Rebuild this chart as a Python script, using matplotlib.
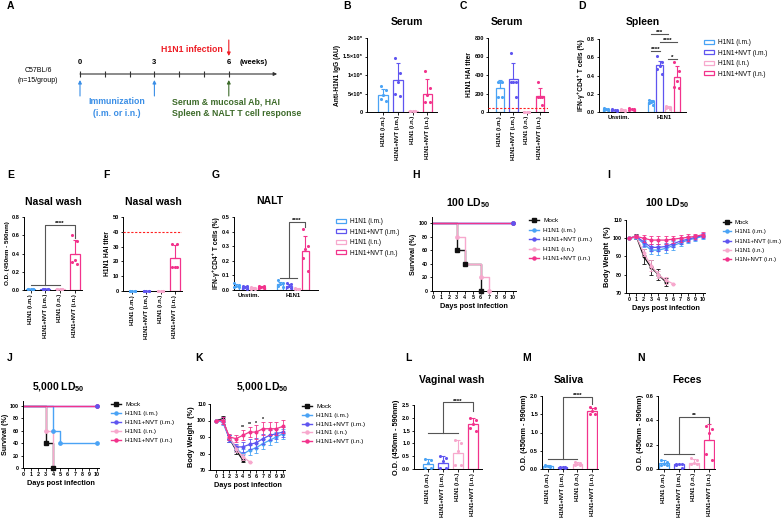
import numpy as np
import matplotlib
matplotlib.use('Agg')
import matplotlib.pyplot as plt
from matplotlib.patches import Patch
from matplotlib.lines import Line2D

plt.rcParams['font.family'] = ['Liberation Sans', 'DejaVu Sans']
plt.rcParams['font.weight'] = 'bold'
plt.rcParams['axes.labelweight'] = 'bold'
plt.rcParams['mathtext.fontset'] = 'custom'
plt.rcParams['mathtext.rm'] = 'Liberation Sans:bold'
plt.rcParams['mathtext.bf'] = 'Liberation Sans:bold'
plt.rcParams['axes.linewidth'] = 0.7
plt.rcParams['xtick.major.width'] = 0.6
plt.rcParams['ytick.major.width'] = 0.6
plt.rcParams['xtick.major.size'] = 1.8
plt.rcParams['ytick.major.size'] = 1.8
plt.rcParams['xtick.major.pad'] = 1
plt.rcParams['ytick.major.pad'] = 1

# ---------------- data ----------------
groups = ['H1N1 (i.m.)', 'H1N1+NVT (i.m.)', 'H1N1 (i.n.)', 'H1N1+NVT (i.n.)']
colors = ['#4aa3f5', '#5f55f0', '#f7a8cd', '#f2338c']
mock_color = '#111111'
curve_labels = ['Mock', 'H1N1 (i.m.)', 'H1N1+NVT (i.m.)', 'H1N1 (i.n.)', 'H1N1+NVT (i.n.)']
curve_labels_i = ['Mock', 'H1N1 (i.m.)', 'H1N1+NVT (i.m.)', 'H1N1 (i.n.)', 'H1N+NVT (i.n.)']
curve_colors = [mock_color] + colors

# A: schedule
weeks = [0, 1, 2, 3, 4, 5, 6]
week_labels = [0, 3, 6]
immun_weeks = [0, 3]
infect_week = 6

# B: serum IgG
b_mean = [4.7e5, 8.7e5, 2.0e4, 5.0e5]
b_sd = [1.4e5, 4.6e5, 1.0e4, 3.8e5]
b_pts = [[7.0e5, 6.0e5, 4.6e5, 3.5e5, 3.0e5],
         [1.45e6, 1.05e6, 8.0e5, 4.8e5, 4.2e5],
         [3.0e4, 2.0e4, 1.5e4, 1.5e4, 2.0e4],
         [1.1e6, 6.5e5, 4.6e5, 2.7e5, 2.6e5]]

# C: serum HAI
c_mean = [256, 352, 5, 176]
c_sd = [88, 175, 0, 88]
c_pts = [[320, 320, 320, 160, 160],
         [640, 320, 320, 320, 160],
         [5, 5, 5, 5, 5],
         [320, 160, 160, 160, 80]]
hai_cutoff = 40

# D: spleen IFN-g CD4
d_unstim_mean = [0.03, 0.02, 0.02, 0.03]
d_unstim_sd = [0.008, 0.006, 0.007, 0.008]
d_unstim_pts = [[0.04, 0.035, 0.03, 0.025, 0.02], [0.03, 0.025, 0.02, 0.02, 0.015],
                [0.03, 0.025, 0.02, 0.02, 0.015], [0.04, 0.035, 0.03, 0.025, 0.02]]
d_h1n1_mean = [0.11, 0.51, 0.05, 0.38]
d_h1n1_sd = [0.02, 0.05, 0.02, 0.12]
d_h1n1_pts = [[0.13, 0.12, 0.11, 0.10, 0.08], [0.61, 0.55, 0.50, 0.47, 0.42],
              [0.07, 0.06, 0.05, 0.04, 0.03], [0.55, 0.45, 0.34, 0.27, 0.26]]
d_sig = [(0, 1, 0.67, '****'), (0, 2, 0.85, '***'), (1, 3, 0.77, '****'), (2, 3, 0.58, '*')]

# E: nasal wash OD
e_mean = [0.01, 0.01, 0.01, 0.39]
e_sd = [0.003, 0.003, 0.003, 0.16]
e_pts = [[0.012, 0.01, 0.01, 0.008, 0.012], [0.012, 0.01, 0.01, 0.008, 0.012],
         [0.012, 0.01, 0.01, 0.008, 0.012], [0.60, 0.54, 0.33, 0.31, 0.28]]

# F: nasal wash HAI
f_mean = [0, 0, 0, 22.4]
f_sd = [0, 0, 0, 8.8]
f_pts = [[0] * 5, [0] * 5, [0] * 5, [32, 32, 16, 16, 16]]

# G: NALT IFN-g CD4
g_unstim_mean = [0.03, 0.02, 0.015, 0.02]
g_unstim_sd = [0.01, 0.006, 0.004, 0.006]
g_unstim_pts = [[0.05, 0.035, 0.03, 0.02, 0.02], [0.03, 0.025, 0.02, 0.015, 0.01],
                [0.02, 0.015, 0.015, 0.01, 0.01], [0.03, 0.025, 0.02, 0.015, 0.015]]
g_h1n1_mean = [0.04, 0.03, 0.01, 0.27]
g_h1n1_sd = [0.015, 0.012, 0.004, 0.10]
g_h1n1_pts = [[0.07, 0.05, 0.04, 0.03, 0.02], [0.05, 0.04, 0.03, 0.02, 0.015],
              [0.015, 0.01, 0.01, 0.01, 0.005], [0.42, 0.30, 0.28, 0.22, 0.13]]

# H: survival 100 LD50  (days, %)
h_days = [[0, 3, 4, 6], [0, 10], [0, 10], [0, 3, 4, 6, 7], [0, 10]]
h_surv = [[100, 60, 40, 0], [100, 100], [100, 100], [100, 80, 40, 20, 0], [100, 100]]

# I: body weight 100 LD50
i_mean = [[100, 101, 90, 84, 80, 76],
          [100, 100.5, 97, 93.5, 93.5, 94.5, 96, 97.5, 99, 100, 101],
          [100, 101, 98, 95, 95, 95.5, 97, 98.5, 99.5, 100.5, 101.5],
          [100, 101, 92, 85, 80, 77, 75],
          [100, 101, 100, 99, 99, 99, 99.5, 100, 100.5, 101, 102]]
i_sd = [[0, 1.5, 4, 4, 3, 2],
        [0, 1, 2, 2, 2.5, 2.5, 2.5, 2, 1.5, 1.5, 1.5],
        [0, 1, 2, 2, 2, 2, 2, 1.5, 1.5, 1.5, 1.5],
        [0, 1, 2, 3, 2, 2, 0],
        [0, 1, 2, 2, 2, 2, 2, 2, 2, 1.5, 1.5]]

# J: survival 5,000 LD50
j_days = [[0, 3, 4], [0, 4, 5, 10], [0, 10], [0, 3, 4], [0, 10]]
j_surv = [[100, 40, 0], [100, 60, 40, 40], [100, 100], [100, 60, 0], [100, 100]]

# K: body weight 5,000 LD50
k_mean = [[100, 101, 89, 82, 76],
          [100, 99, 89, 83, 79.5, 82, 83.5, 86, 88, 90, 92],
          [100, 100, 89, 84, 84, 85.5, 86.5, 89, 91, 92, 93],
          [100, 100, 90, 83, 78, 75],
          [100, 100, 90, 89, 91, 93, 93, 95, 95, 95, 96.5]]
k_sd = [[0, 2, 2, 2, 1],
        [0, 2, 2, 2, 3, 3, 3, 3, 3, 3, 3],
        [0, 2, 2, 2, 3, 3, 3, 3, 3, 3, 3],
        [0, 1, 2, 2, 2, 0],
        [0, 2, 2, 2, 3, 3, 4, 4, 4, 4, 4]]
k_star_days = [4, 5, 6, 7]
k_star_text = ['**', '**', '*', '*']

# L: vaginal wash
l_mean = [0.20, 0.25, 0.63, 1.75]
l_sd = [0.20, 0.25, 0.50, 0.25]
l_pts = [[0.40, 0.35, 0.25, 0.02, 0.02], [0.50, 0.42, 0.30, 0.05, 0.02],
         [1.15, 1.00, 0.70, 0.15, 0.15], [2.00, 1.90, 1.75, 1.60, 1.50]]

# M: saliva
m_mean = [0.08, 0.05, 0.15, 1.58]
m_sd = [0.02, 0.01, 0.05, 0.10]
m_pts = [[0.10, 0.09, 0.08, 0.07, 0.06], [0.06, 0.05, 0.05, 0.04, 0.03],
         [0.20, 0.17, 0.15, 0.12, 0.11], [1.70, 1.68, 1.58, 1.52, 1.50]]

# N: feces
n_mean = [0.05, 0.04, 0.05, 0.24]
n_sd = [0.02, 0.005, 0.03, 0.13]
n_pts = [[0.07, 0.06, 0.04, 0.03, 0.03], [0.045, 0.04, 0.04, 0.035, 0.01],
         [0.09, 0.07, 0.05, 0.04, 0.04], [0.35, 0.33, 0.30, 0.12, 0.07]]

# ---------------- helpers ----------------
W, H = 784, 521
fig = plt.figure(figsize=(W / 100, H / 100), dpi=100)
fig.patch.set_facecolor('white')

GRAY = '#555555'
PT_OFF = np.array([-0.17, 0.17, 0.0, -0.17, 0.17])
ylab_od = 'O.D. (450nm - 590nm)'
ylab_ifn = 'IFN-γ⁺CD4⁺ T cells (%)'


def px_axes(x0, y0, x1, y1):
    ax = fig.add_axes([x0 / W, 1 - y1 / H, (x1 - x0) / W, (y1 - y0) / H])
    ax.spines[['top', 'right']].set_visible(False)
    ax.patch.set_alpha(0)
    ax.tick_params(labelsize=4.1)
    return ax


def ftext(x, y, s, **kw):
    fig.text(x / W, 1 - y / H, s, **kw)


def draw_bars(ax, xs, means, sds, pts, width, spread=1.0):
    for x, m, sd, p, c in zip(xs, means, sds, pts, colors):
        ax.bar(x, m, width=width, facecolor='white', edgecolor=c, linewidth=0.9, zorder=2)
        if sd > 0:
            ax.errorbar(x, m, yerr=[[0], [sd]], color=c, lw=0.8, capsize=1.6,
                        capthick=0.8, zorder=2.5)
        ax.scatter(x + PT_OFF * spread, p, s=5, color=c, zorder=3, linewidths=0, clip_on=False)


def group_bracket(ax, xs, y_low, y_high, y_drop, text):
    kw = dict(color=GRAY, lw=0.8, clip_on=False, zorder=4)
    ax.plot([xs[0], xs[2]], [y_low, y_low], **kw)
    ax.plot([xs[1], xs[1], xs[3], xs[3]], [y_low, y_high, y_high, y_drop], **kw)
    ax.text((xs[1] + xs[3]) / 2, y_high, text, ha='center', va='baseline', fontsize=4.5)


def bar_axes_style(ax, ylim, yticks, yticklabels, ylabel, ylab_size=4.8):
    ax.set_ylim(*ylim)
    ax.set_yticks(yticks)
    ax.set_yticklabels(yticklabels)
    ax.set_ylabel(ylabel, fontsize=ylab_size, labelpad=1.5)


def four_bar_panel(box, xlim, means, sds, pts, ylim, yticks, yticklabels, ylabel, ylab_size=4.8):
    ax = px_axes(*box)
    xs = np.arange(4)
    draw_bars(ax, xs, means, sds, pts, width=0.66)
    ax.set_xlim(*xlim)
    ax.set_xticks(xs)
    ax.set_xticklabels(groups, rotation=90, fontsize=4.1)
    bar_axes_style(ax, ylim, yticks, yticklabels, ylabel, ylab_size)
    return ax, xs


def grouped_panel(box, xlim, unstim, h1n1, ylim, yticks, yticklabels, ylabel):
    ax = px_axes(*box)
    offs = np.array([-1.5, -0.5, 0.5, 1.5]) * 0.19
    xs_u = 0 + offs
    xs_h = 1 + offs
    draw_bars(ax, xs_u, *unstim, width=0.14, spread=0.3)
    draw_bars(ax, xs_h, *h1n1, width=0.14, spread=0.3)
    ax.set_xlim(*xlim)
    ax.set_xticks([0, 1])
    ax.set_xticklabels(['Unstim.', 'H1N1'], fontsize=4.3)
    ax.tick_params(axis='x', length=0, pad=2)
    bar_axes_style(ax, ylim, yticks, yticklabels, ylabel)
    return ax, xs_h


def survival_panel(box, days, surv, xlim, ylim, ylab_pad=1.5):
    ax = px_axes(*box)
    order = [1, 3, 4, 2, 0]
    for k in order:
        c = curve_colors[k]
        ax.step(days[k], surv[k], where='post', color=c, lw=1.0, clip_on=False, zorder=2 + k * 0.1)
        ax.plot(days[k][1:], surv[k][1:], 's' if k == 0 else 'o', color=c, ms=2.4,
                clip_on=False, zorder=3)
    ax.set_xlim(*xlim)
    ax.set_ylim(*ylim)
    ax.set_xticks(range(11))
    ax.set_yticks([0, 20, 40, 60, 80, 100])
    ax.tick_params(labelsize=3.9)
    ax.set_ylabel('Survival (%)', fontsize=5.1, labelpad=ylab_pad)
    ax.set_xlabel('Days post infection', fontsize=5.3, labelpad=2)
    return ax


def weight_panel(box, means, sds, xlim):
    ax = px_axes(*box)
    order = [1, 2, 3, 0, 4]
    for k in order:
        d = np.arange(len(means[k]))
        ax.errorbar(d, means[k], yerr=sds[k], color=curve_colors[k], lw=0.9, marker='o', ms=1.9,
                    capsize=1.2, elinewidth=0.6, capthick=0.6, zorder=2 + k * 0.1)
    ax.set_xlim(*xlim)
    ax.set_ylim(70, 110)
    ax.set_xticks(range(11))
    ax.set_yticks([70, 80, 90, 100, 110])
    ax.tick_params(labelsize=3.9)
    ax.set_ylabel('Body Weight  (%)', fontsize=5.3, labelpad=1.5)
    ax.set_xlabel('Days post infection', fontsize=5.3, labelpad=2)
    return ax


def curve_legend(x, y, labels, spacing, size=4.6, hlen=1.6):
    handles = [Line2D([], [], color=c, lw=1.0, marker='s' if i == 0 else 'o', ms=2.2)
               for i, c in enumerate(curve_colors)]
    fig.legend(handles, labels, loc='upper left', bbox_to_anchor=(x / W, 1 - y / H),
               frameon=False, prop={'size': size, 'weight': 'normal'}, handlelength=hlen,
               handletextpad=0.6, labelspacing=spacing, borderpad=0, borderaxespad=0)


def bar_legend(x, y):
    handles = [Patch(facecolor='white', edgecolor=c, linewidth=0.9) for c in colors]
    fig.legend(handles, groups, loc='upper left', bbox_to_anchor=(x / W, 1 - y / H),
               frameon=False, prop={'size': 4.7, 'weight': 'normal'}, handlelength=1.6,
               handleheight=0.55, handletextpad=0.6, labelspacing=0.55, borderpad=0,
               borderaxespad=0)


# ---------------- A: schedule ----------------
axA = px_axes(0, 0, 300, 130)
axA.axis('off')
axA.set_xlim(-80 / 24.8, 220 / 24.8)
axA.set_ylim(130, 0)
axA.annotate('', xy=(7.95, 74), xytext=(0, 74),
             arrowprops=dict(arrowstyle='-|>', lw=0.8, color='#333333', mutation_scale=5,
                             shrinkA=0, shrinkB=0))
axA.vlines(weeks, 71, 77, color='#333333', lw=0.8)
for w in week_labels:
    axA.text(w, 62, str(w), ha='center', va='center', fontsize=5.5)
axA.text(6.45, 62, '(weeks)', ha='left', va='center', fontsize=5.5)
axA.text(-1.69, 70, 'C57BL/6', ha='center', va='center', fontsize=5, fontweight='normal')
axA.text(-1.69, 81, '(n=15/group)', ha='center', va='center', fontsize=5, fontweight='normal')
axA.annotate('', xy=(infect_week, 56), xytext=(infect_week, 40),
             arrowprops=dict(arrowstyle='-|>', lw=0.8, color='#ee1c24', mutation_scale=5,
                             shrinkA=0, shrinkB=0))
axA.text(5.75, 49, 'H1N1 infection', ha='right', va='center', fontsize=6.3, color='#ee1c24')
for w in immun_weeks:
    axA.annotate('', xy=(w, 80), xytext=(w, 96),
                 arrowprops=dict(arrowstyle='-|>', lw=0.8, color='#3a8ee6', mutation_scale=5,
                                 shrinkA=0, shrinkB=0))
axA.annotate('', xy=(infect_week, 80), xytext=(infect_week, 96),
             arrowprops=dict(arrowstyle='-|>', lw=0.8, color='#3d6b2a', mutation_scale=5,
                             shrinkA=0, shrinkB=0))
axA.text(1.49, 102, 'Immunization', ha='center', va='center', fontsize=6.3, color='#3a8ee6')
axA.text(1.49, 113, '(i.m. or i.n.)', ha='center', va='center', fontsize=6.3, color='#3a8ee6')
axA.text(3.71, 102, 'Serum & mucosal Ab, HAI', ha='left', va='center', fontsize=6.3,
         color='#3d6b2a')
axA.text(3.71, 113, 'Spleen & NALT T cell response', ha='left', va='center', fontsize=6.3,
         color='#3d6b2a')

# ---------------- B ----------------
four_bar_panel((367, 38, 437, 112), (-1.1, 3.65), b_mean, b_sd, b_pts, (0, 2e6),
               [0, 5e5, 1e6, 1.5e6, 2e6], ['0', '5×10⁵', '1×10⁶', '1.5×10⁶', '2×10⁶'],
               'Anti-H1N1 IgG (AU)')

# ---------------- C ----------------
axC, _ = four_bar_panel((488, 38, 548, 112), (-0.9, 3.6), c_mean, c_sd, c_pts, (0, 800),
                        [0, 200, 400, 600, 800], ['0', '200', '400', '600', '800'],
                        'H1N1 HAI titer')
axC.axhline(hai_cutoff, color='#ff2020', lw=0.8, ls=(0, (2, 1.5)), zorder=4)

# ---------------- D ----------------
axD, xs_d = grouped_panel((599, 39, 686, 112), (-0.44, 1.49),
                          (d_unstim_mean, d_unstim_sd, d_unstim_pts),
                          (d_h1n1_mean, d_h1n1_sd, d_h1n1_pts), (0, 0.8),
                          [0, 0.2, 0.4, 0.6, 0.8], ['0.0', '0.2', '0.4', '0.6', '0.8'], ylab_ifn)
for i, j, y, s in d_sig:
    axD.plot([xs_d[i], xs_d[j]], [y, y], color=GRAY, lw=0.8, clip_on=False, zorder=4)
    axD.text((xs_d[i] + xs_d[j]) / 2, y, s, ha='center', va='baseline', fontsize=4.5)
bar_legend(704, 39)

# ---------------- E ----------------
axE, xs_e = four_bar_panel((24, 217, 82, 290), (-0.45, 3.5), e_mean, e_sd, e_pts, (0, 0.8),
                           [0, 0.2, 0.4, 0.6, 0.8], ['0.0', '0.2', '0.4', '0.6', '0.8'],
                           ylab_od, ylab_size=4.5)
group_bracket(axE, xs_e, 0.055, 0.71, 0.57, '****')

# ---------------- F ----------------
axF, _ = four_bar_panel((123, 217, 182, 291), (-0.65, 3.5), f_mean, f_sd, f_pts, (0, 50),
                        [0, 10, 20, 30, 40, 50], ['0', '10', '20', '30', '40', '50'],
                        'H1N1 HAI titer')
axF.axhline(hai_cutoff, color='#ff2020', lw=0.8, ls=(0, (2, 1.5)), zorder=4)

# ---------------- G ----------------
axG, xs_g = grouped_panel((234, 217, 318, 290), (-0.34, 1.57),
                          (g_unstim_mean, g_unstim_sd, g_unstim_pts),
                          (g_h1n1_mean, g_h1n1_sd, g_h1n1_pts), (0, 0.5),
                          [0, 0.1, 0.2, 0.3, 0.4, 0.5],
                          ['0.0', '0.1', '0.2', '0.3', '0.4', '0.5'], ylab_ifn)
group_bracket(axG, xs_g, 0.085, 0.466, 0.43, '****')
bar_legend(336, 218)

# ---------------- H ----------------
survival_panel((432, 217, 516, 291), h_days, h_surv, (-0.1, 10.4), (0, 109))
curve_legend(529, 218, curve_labels, 0.62)

# ---------------- I ----------------
weight_panel((626, 220, 705, 293), i_mean, i_sd, (-0.4, 10.3))
curve_legend(723, 220, curve_labels_i, 0.68, size=4.3, hlen=1.4)

# ---------------- J ----------------
survival_panel((23, 401, 99, 468), j_days, j_surv, (-0.1, 10.3), (0, 108), ylab_pad=0.5)
curve_legend(111, 402, curve_labels, 0.55)

# ---------------- K ----------------
axK = weight_panel((210, 404, 285, 470), k_mean, k_sd, (-0.9, 10.3))
for d, s in zip(k_star_days, k_star_text):
    axK.text(d, k_mean[4][d] + k_sd[4][d] + 0.6, s, ha='center', va='baseline', fontsize=3.8)
curve_legend(302, 404, curve_labels, 0.5)

# ---------------- L ----------------
axL, xs_l = four_bar_panel((414, 405, 482, 469), (-0.93, 3.6), l_mean, l_sd, l_pts, (0, 2.5),
                           [0, 0.5, 1.0, 1.5, 2.0, 2.5],
                           ['0.0', '0.5', '1.0', '1.5', '2.0', '2.5'], ylab_od, ylab_size=5.3)
group_bracket(axL, xs_l, 1.42, 2.6, 2.27, '****')

# ---------------- M ----------------
axM, xs_m = four_bar_panel((542, 396, 598, 469), (-0.4, 3.4), m_mean, m_sd, m_pts, (0, 2.0),
                           [0, 0.5, 1.0, 1.5, 2.0], ['0.0', '0.5', '1.0', '1.5', '2.0'],
                           ylab_od, ylab_size=5.3)
group_bracket(axM, xs_m, 0.27, 1.98, 1.78, '****')

# ---------------- N ----------------
axN, xs_n = four_bar_panel((658, 396, 715, 469), (-0.4, 3.4), n_mean, n_sd, n_pts, (0, 0.6),
                           [0, 0.2, 0.4, 0.6], ['0.0', '0.2', '0.4', '0.6'],
                           ylab_od, ylab_size=5.3)
group_bracket(axN, xs_n, 0.123, 0.427, 0.38, '**')

# ---------------- titles & panel letters ----------------
titles = [(407, 22, 'Serum'), (507, 22, 'Serum'), (643, 22, 'Spleen'),
          (53, 202, 'Nasal wash'), (153, 202, 'Nasal wash'), (270, 201, 'NALT'),
          (468, 203, r'100 LD$_{\mathbf{50}}$'), (667, 203, r'100 LD$_{\mathbf{50}}$'),
          (58, 387, r'5,000 LD$_{\mathbf{50}}$'), (262, 387, r'5,000 LD$_{\mathbf{50}}$'),
          (452, 380, 'Vaginal wash'), (569, 380, 'Saliva'), (687, 380, 'Feces')]
for x, y, s in titles:
    ftext(x, y, s, ha='center', va='center', fontsize=7.5)

letters = [(7, 6, 'A'), (343, 6, 'B'), (460, 6, 'C'), (578, 6, 'D'),
           (7, 175, 'E'), (103, 175, 'F'), (212, 175, 'G'), (412, 175, 'H'), (607, 175, 'I'),
           (7, 358, 'J'), (195, 358, 'K'), (405, 358, 'L'), (522, 358, 'M'), (637, 358, 'N')]
for x, y, s in letters:
    ftext(x, y, s, ha='left', va='center', fontsize=7.5)

fig.savefig('out.png', dpi=100, facecolor='white')
